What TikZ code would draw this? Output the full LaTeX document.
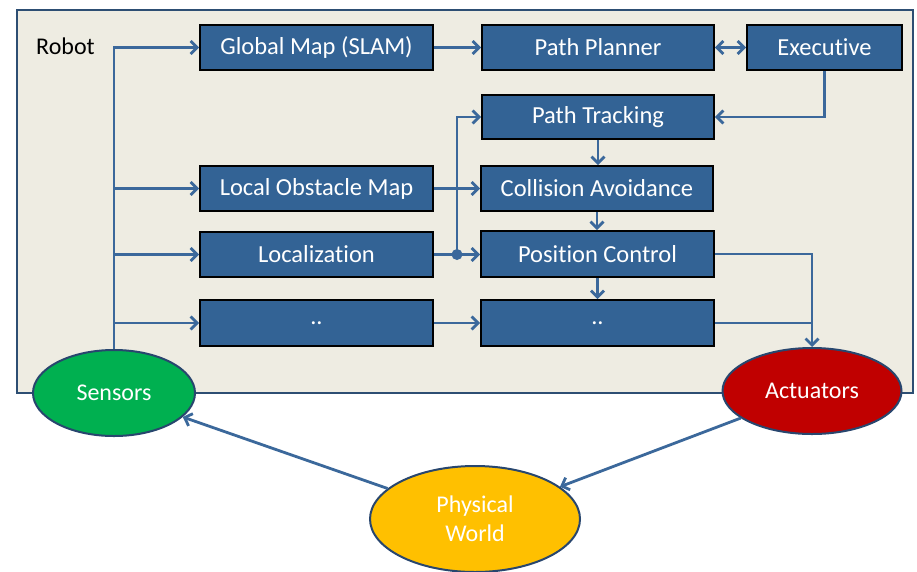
\documentclass[tikz,border=0pt]{standalone}
\usepackage{fontspec}
\setmainfont{Carlito}[Ligatures=NoCommon]
\usetikzlibrary{arrows.meta,shapes.geometric,calc}
\definecolor{robotfill}{RGB}{238,236,226}
\definecolor{robotline}{RGB}{45,78,115}
\definecolor{boxfill}{RGB}{51,99,149}
\definecolor{conn}{RGB}{59,104,155}
\definecolor{sensgreen}{RGB}{0,176,80}
\definecolor{actred}{RGB}{192,0,0}
\definecolor{worldyellow}{RGB}{255,192,0}
\definecolor{ellline}{RGB}{40,70,110}
\begin{document}
\begin{tikzpicture}[x=1pt,y=-1pt,
  blk/.style={draw=black,line width=1.8pt,fill=boxfill,text=white,inner sep=0pt,
    minimum height=45pt,font=\fontsize{24.5}{28}\selectfont},
  wide/.style={blk,minimum width=233pt},
  oval/.style={ellipse,draw=ellline,line width=2pt,text=white,inner sep=0pt,
    font=\fontsize{24}{28}\selectfont},
  arr/.style={draw=conn,line width=2.8pt,-{Straight Barb[length=6.5pt,width=13pt]}},
  ln/.style={draw=conn,line width=2.8pt},
]
\useasboundingbox (0,0) rectangle (917,571);
\path[fill=white] (0,0) rectangle (917,571);
% robot frame
\node[draw=robotline,fill=robotfill,line width=2pt,minimum width=896pt,minimum height=383pt,inner sep=0pt] (robot) at (465,201.5) {};
\node[anchor=west,inner sep=0pt,font=\fontsize{24}{28}\selectfont] (rlab) at (36,46) {Robot};
% blocks
\node[wide] (gm) at (316.5,47.5) {Global Map (SLAM)};
\node[wide] (lom) at (316.5,188.5) {Local Obstacle Map};
\node[wide] (loc) at (316.5,254.5) {Localization};
\node[wide,minimum height=46pt] (dl) at (316.5,323) {..};
\node[wide,minimum width=232pt] (pp) at (598,47.5) {Path Planner};
\node[blk,minimum width=155pt] (ex) at (824.5,47.5) {Executive};
\node[wide,minimum width=232pt,minimum height=44pt] (pt) at (598,117) {Path Tracking};
\node[wide,minimum width=232pt] (ca) at (597,188.5) {Collision Avoidance};
\node[wide,minimum height=46pt] (pc) at (597.5,254) {Position Control};
\node[wide,minimum height=46pt] (dr) at (597.5,323) {..};
% ellipses
\node[oval,fill=sensgreen,minimum width=162pt,minimum height=86pt] (sens) at (114,393) {Sensors};
\node[oval,fill=actred,minimum width=179pt,minimum height=86pt] (act) at (812,391) {Actuators};
\node[oval,fill=worldyellow,minimum width=210pt,minimum height=106pt,align=center,
  font=\fontsize{24}{29}\selectfont] (pw) at (475,519) {Physical\\World};
% sensor bus
\draw[arr] (sens.north) |- (gm.west);
\draw[arr] (sens.north) |- (lom.west);
\draw[arr] (sens.north) |- (loc.west);
\draw[arr] (sens.north) |- (dl.west);
% top row
\draw[arr] (gm.east) -- (pp.west);
\draw[draw=conn,line width=2.8pt,{Straight Barb[length=6.5pt,width=13pt]}-{Straight Barb[length=6.5pt,width=13pt]}] (pp.east) -- (ex.west);
\draw[arr] (ex.south) |- (pt.east);
% right column chain
\draw[arr] (pt.south) -- (pt.south |- ca.north);
\draw[arr] (ca.south) -- (ca.south |- pc.north);
\draw[arr] (pc.south) -- (pc.south |- dr.north);
% middle links
\coordinate (j) at ($(loc.east)!0.5!(loc.east -| pc.west)$);
\draw[arr] (lom.east) -- (lom.east -| ca.west);
\draw[arr] (loc.east) -- (loc.east -| pc.west);
\draw[arr] (j) |- (pt.west);
\fill[conn] (j) circle (5.5pt);
\draw[arr] (dl.east) -- (dl.east -| dr.west);
% to actuators
\draw[arr] (pc.east) -| (act.north);
\draw[ln] (dr.east) -- (dr.east -| act.north);
% world loop
\draw[arr] (pw) -- (sens);
\draw[arr] (act) -- (pw);
\end{tikzpicture}
\end{document}
